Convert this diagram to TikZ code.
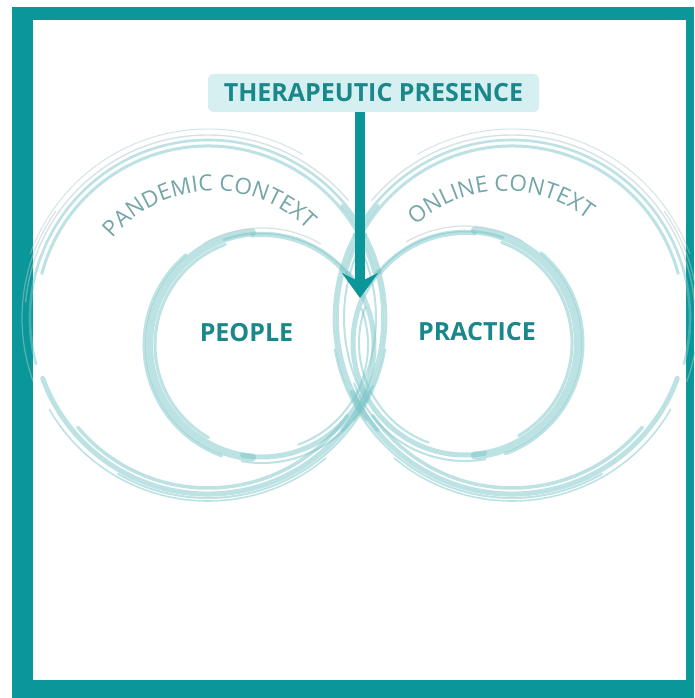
\documentclass[tikz,border=0pt]{standalone}
\usepackage{fontspec}
\setmainfont{Open Sans}
\usepackage{tikz}
\usetikzlibrary{arrows.meta,positioning,calc,decorations.text}
\definecolor{FrameTeal}{HTML}{0B979A}
\definecolor{LabelTeal}{HTML}{1A878B}
\definecolor{BoxTeal}{HTML}{D6EFF0}
\definecolor{RingTeal}{HTML}{7CC6C9}
\definecolor{RingGray}{HTML}{AFC9CB}
\definecolor{ContextGray}{HTML}{74A5A8}
\newcommand{\contextfont}{\fontsize{22.5}{22.5}\selectfont\color{ContextGray}}
\tikzset{diagram layout/.style={%
    x=1pt,
    y=-1pt,
    every node/.style={%
        font=\bfseries\fontsize{25}{25}\selectfont, text=LabelTeal, inner sep=0pt
    }
}}
\tikzset{ring/.style={%
    draw=RingTeal, line cap=round, opacity=0.5, line width=#1
}}
\tikzset{title box/.style={%
    fill=BoxTeal, rounded corners=5pt, minimum width=331pt, minimum height=38pt
}}
\tikzset{presence arrow/.style={%
    draw=FrameTeal, line width=10pt, -{Stealth[width=36pt,length=25pt,inset=9pt]}
}}

\begin{document}
\begin{tikzpicture}[diagram layout]
            \useasboundingbox (0,0) rectangle (694,698);
            \fill[white] (0,0) rectangle (694,698);
            \fill[FrameTeal] (12,7) rectangle (694,698);
            \fill[white] (33,20) rectangle (686,680);

            \coordinate (pandemic) at (208,318);
            \coordinate (online) at (512,318);
            \coordinate (peoplec) at (262,345);
            \coordinate (practicec) at (465,343);

            \foreach \r/\a/\b/\w/\c in {189/200/300/1.0/RingGray, 178/165/395/2.6/RingTeal,
                    172/195/345/3.0/RingTeal, 183/185/320/1.4/RingGray, 176/25/160/5.0/RingTeal,
                    170/35/140/3.5/RingTeal, 183/50/150/1.6/RingTeal, 175/-40/40/3.5/RingTeal,
                    168/-30/30/2.0/RingTeal, 180/10/120/2.0/RingTeal, 186/160/215/1.2/RingGray} {
                \pgfmathsetmacro{\ma}{180-\b}
                \pgfmathsetmacro{\mb}{180-\a}
                \draw[ring=\w pt, draw=\c] (pandemic) ++(\a:\r) arc[start angle=\a, end angle=\b, radius=\r];
                \draw[ring=\w pt, draw=\c] (online) ++(\ma:\r) arc[start angle=\ma, end angle=\mb, radius=\r];
            }

            \foreach \r/\a/\b/\w/\c in {113/95/265/8.0/RingTeal, 118/110/230/3.0/RingTeal,
                    107/120/250/3.0/RingTeal, 112/250/330/2.5/RingTeal, 117/240/300/1.2/RingGray,
                    110/265/320/4.0/RingTeal, 112/320/460/5.0/RingTeal, 106/340/430/2.0/RingTeal,
                    118/20/100/2.0/RingTeal} {
                \pgfmathsetmacro{\ma}{180-\b}
                \pgfmathsetmacro{\mb}{180-\a}
                \draw[ring=\w pt, draw=\c] (peoplec) ++(\a:\r) arc[start angle=\a, end angle=\b, radius=\r];
                \draw[ring=\w pt, draw=\c] (practicec) ++(\ma:\r) arc[start angle=\ma, end angle=\mb, radius=\r];
            }

            \path[decorate, decoration={text along path, text align=center,
                    text={|\contextfont|PANDEMIC CONTEXT}}]
                (214,323) ++(212:132) arc[start angle=212, end angle=323, radius=132];
            \path[decorate, decoration={text along path, text align=center,
                    text={|\contextfont|ONLINE CONTEXT}}]
                (505,325) ++(218:134) arc[start angle=218, end angle=318, radius=134];

            \node[title box] (tp) at (373.5,93) {THERAPEUTIC PRESENCE};
            \node (people) at (246.5,333) {PEOPLE};
            \node (practice) at (477,332) {PRACTICE};

            \coordinate (tip) at (360,298);
            \draw[presence arrow] (tp.south -| tip) -- (tip);
        \end{tikzpicture}
\end{document}
